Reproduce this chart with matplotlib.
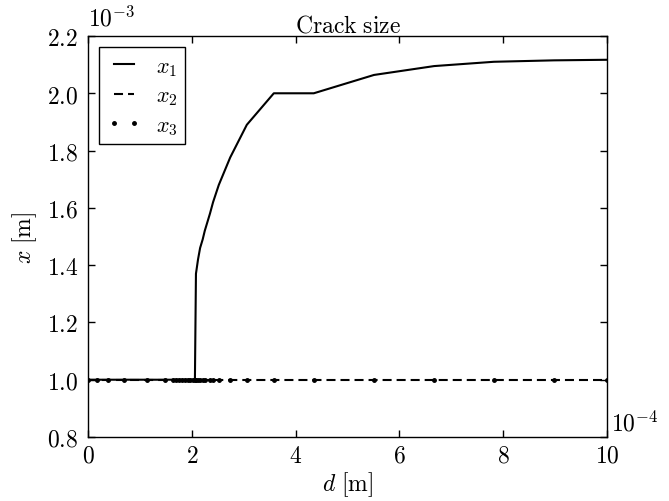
import numpy as np
import matplotlib
matplotlib.use('Agg')
import matplotlib.pyplot as plt
from matplotlib.ticker import FuncFormatter

plt.rcParams['mathtext.fontset'] = 'cm'
plt.rcParams['font.family'] = 'serif'
plt.rcParams['lines.scale_dashes'] = False

# d in units of 1e-4 m, crack sizes in units of 1e-3 m
d_scale = 1e-4
x_scale = 1e-3
d_vals = [0.0, 0.18, 0.39, 0.70, 1.13, 1.48, 1.64, 1.70, 1.76, 1.82, 1.87,
          1.92, 1.97, 2.02, 2.06, 2.08, 2.12, 2.16, 2.21, 2.25, 2.35, 2.41,
          2.52, 2.74, 3.06, 3.58, 4.35, 5.51, 6.67, 7.82, 8.98, 10.0]
x1_vals = [1.0, 1.0, 1.0, 1.0, 1.0, 1.0, 1.0, 1.0, 1.0, 1.0, 1.0,
           1.0, 1.0, 1.0, 1.0, 1.37, 1.42, 1.46, 1.49, 1.52, 1.58, 1.62,
           1.68, 1.776, 1.89, 2.0, 2.0, 2.064, 2.095, 2.11, 2.115, 2.117]
x2_vals = [1.0] * len(d_vals)
x3_vals = [1.0] * len(d_vals)

d = np.array(d_vals) * d_scale
x1 = np.array(x1_vals) * x_scale
x2 = np.array(x2_vals) * x_scale
x3 = np.array(x3_vals) * x_scale

fig = plt.figure(figsize=(6.69, 5.02), dpi=100)
ax = fig.add_axes([88 / 669, 1 - 438 / 502, (607 - 88) / 669, (438 - 37) / 502])

ax.plot(d, x1, 'k-', lw=1.5, label=r'$x_1$')
ax.plot(d, x2, 'k--', lw=1.5, dashes=(6.5, 3.6), label=r'$x_2$')
ax.plot(d, x3, 'k.', ms=5, label=r'$x_3$')

ax.set_xlim(0, 10 * d_scale)
ax.set_ylim(0.8 * x_scale, 2.2 * x_scale)
ax.set_xticks(np.arange(0, 11, 2) * d_scale)
ax.set_yticks(np.arange(0.8, 2.21, 0.2) * x_scale)
ax.xaxis.set_major_formatter(FuncFormatter(lambda v, p: r'$%d$' % round(v / d_scale)))
ax.yaxis.set_major_formatter(FuncFormatter(lambda v, p: r'$%.1f$' % (v / x_scale)))
ax.tick_params(direction='in', top=True, right=True, length=5, width=1,
               labelsize=17)
ax.tick_params(axis='y', pad=7)
ax.tick_params(axis='x', pad=5)
for s in ax.spines.values():
    s.set_linewidth(1.0)

ax.text(0, 1.015, r'$10^{-3}$', transform=ax.transAxes, ha='left', va='bottom', fontsize=17)
ax.text(1.008, 0.005, r'$10^{-4}$', transform=ax.transAxes, ha='left', va='bottom', fontsize=17)

ax.set_title(r'$\mathrm{Crack\ size}$', fontsize=17, pad=3)
ax.set_xlabel(r'$d\ [\mathrm{m}]$', fontsize=17, labelpad=2)
ax.set_ylabel(r'$x\ [\mathrm{m}]$', fontsize=17, labelpad=6)

leg = ax.legend(loc='upper left', numpoints=2, fontsize=16, fancybox=False,
                framealpha=1, edgecolor='k', handlelength=1.5,
                handletextpad=0.7, borderaxespad=0.5, labelspacing=0.3,
                borderpad=0.35)
leg.get_frame().set_linewidth(1.0)

fig.savefig('out.png', dpi=100, facecolor='white')
